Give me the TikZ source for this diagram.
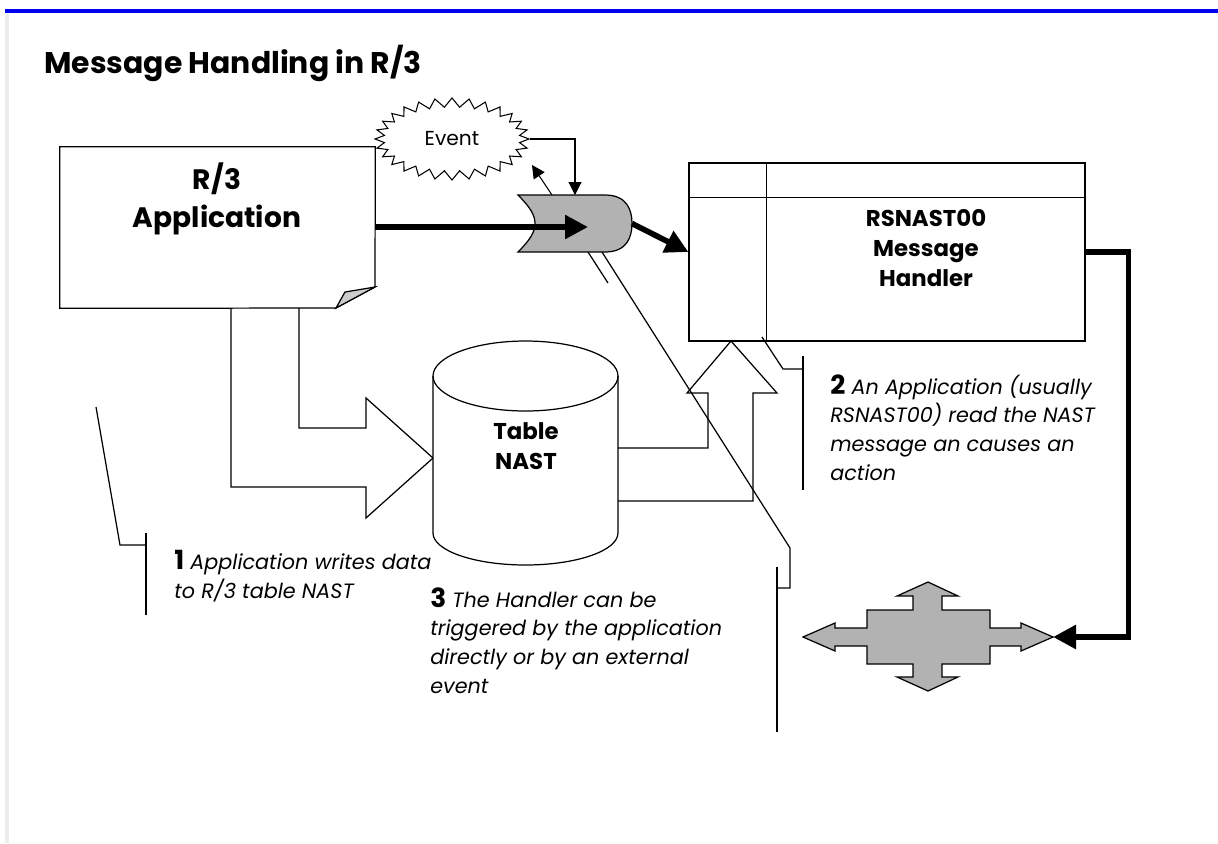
\documentclass[tikz,border=0pt]{standalone}
\usepackage{fontspec}
\setmainfont{Poppins}
\usetikzlibrary{arrows.meta, positioning, shapes.symbols}
\usepackage{xcolor}
\definecolor{azulbarra}{RGB}{0, 0, 240}
\definecolor{cinzaforma}{RGB}{178, 178, 178}
\definecolor{cinzadobra}{RGB}{205, 205, 205}
\definecolor{cinzaborda}{RGB}{236, 236, 236}

\begin{document}
\begin{tikzpicture}[
    x=0.02cm, y=-0.02cm,
    every node/.style={inner sep=0pt},
    linha/.style={draw=black, line width=0.7pt},
    grossa/.style={line width=3.2pt, -{Triangle[length=0.46cm, width=0.46cm]}},
    fina/.style={line width=0.6pt, -{Triangle[length=0.26cm, width=0.26cm]}},
    rotulo/.style={font=\bfseries\fontsize{13}{17}\selectfont, align=center},
    nota/.style={font=\itshape\fontsize{11.8}{16.4}\selectfont, align=left, anchor=north west}
]

\useasboundingbox (0,0) rectangle (1218,843);

% ------------------------------------------------
% Moldura e titulo
% ------------------------------------------------

\draw[azulbarra, line width=2pt] (5,11) -- (1218,11);
\draw[cinzaborda, line width=1.8pt] (7,14) -- (7,843);

\node[
    anchor=base west,
    font=\bfseries\fontsize{17}{19}\selectfont
] (titulo) at (44,73)
{Message Handling in R/3};

% ------------------------------------------------
% Aplicacao R/3
% ------------------------------------------------

\node[
    minimum width=6.3cm,
    minimum height=3.22cm
] (app) at (217.5,227.5)
{};

\draw[linha, fill=white] (app.north west) -- (app.north east) -- (375,287)
    -- (336,308) -- (app.south west) -- cycle;
\draw[linha, fill=cinzadobra] (375,287) -- (336,308) -- (345,292) -- cycle;

\node[
    rotulo,
    font=\bfseries\fontsize{16}{21.6}\selectfont
] (app texto) at (217,199)
{R/3\\Application};

% ------------------------------------------------
% Evento e portao
% ------------------------------------------------

\node[
    starburst,
    draw,
    fill=white,
    line width=0.6pt,
    starburst points=28,
    starburst point height=0.18cm,
    random starburst=0,
    minimum width=3.08cm,
    minimum height=1.64cm,
    font=\fontsize{11.5}{13}\selectfont
] (evento) at (452,139)
{Event};

\draw[linha, fill=cinzaforma] (518,195) -- (605,195)
    .. controls (627,195) and (632,210) .. (632,223.5)
    .. controls (632,237) and (627,252) .. (605,252)
    -- (518,252)
    .. controls (530,240) and (535,232) .. (535,223.5)
    .. controls (535,215) and (530,207) .. (518,195) -- cycle;

\coordinate (portao) at (632,223.5);
\coordinate (portao topo) at (575,195);
\coordinate (portao ponta) at (588,227);
\coordinate (portao esq) at (552,195);
\coordinate (evento volta) at (532,165);

\draw[fina] (evento.east) -| (portao topo);
\draw[fina] (portao esq) -- (evento volta);
\draw[grossa] (app.east |- portao ponta) -- (portao ponta);

% ------------------------------------------------
% Message Handler
% ------------------------------------------------

\node[
    linha,
    minimum width=7.92cm,
    minimum height=3.56cm
] (handler) at (887,252)
{};

\draw[linha] (handler.north west) ++(0,35) -- ++(396,0);
\draw[linha] (handler.north west) ++(78,0) -- ++(0,178);

\node[
    rotulo
] (handler texto) at (926,248)
{RSNAST00\\Message\\Handler};

\draw[grossa] (portao) -- (handler.west);

% ------------------------------------------------
% Tabela NAST
% ------------------------------------------------

\draw[linha] (231,308) -- (231,487) -- (366,487) -- (366,518) -- (433,458)
    -- (366,398) -- (366,428) -- (299,428) -- (299,308);

\draw[linha] (618,501) -- (753,501) -- (753,393) -- (777,393) -- (731,341)
    -- (687,393) -- (708,393) -- (708,448) -- (618,448);

\draw[linha, fill=white] (433,376) -- (433,533)
    arc[start angle=180, end angle=360, x radius=1.85cm, y radius=0.64cm]
    -- (618,376);
\draw[linha] (525.5,376) ellipse[x radius=1.85cm, y radius=0.7cm];

\node[
    rotulo
] (nast) at (526,446)
{Table\\NAST};

% ------------------------------------------------
% Seta de quatro pontas
% ------------------------------------------------

\draw[linha, fill=cinzaforma] (803,637) -- (835,623) -- (835,628) -- (867,628)
    -- (867,610) -- (913,610) -- (913,596) -- (897,596) -- (928,582)
    -- (958,596) -- (942,596) -- (942,610) -- (990,610) -- (990,628)
    -- (1021,628) -- (1021,623) -- (1053,637) -- (1021,651) -- (1021,646)
    -- (990,646) -- (990,664) -- (942,664) -- (942,677) -- (958,677)
    -- (928,691) -- (897,677) -- (913,677) -- (913,664) -- (867,664)
    -- (867,646) -- (835,646) -- (835,651) -- cycle;

\coordinate (quatro) at (1053,637);

\draw[grossa] (handler.east) -- ++(43,0) |- (quatro);

% ------------------------------------------------
% Notas
% ------------------------------------------------

\draw[linha] (96,407) -- (120,545) -- (146,545);
\draw[linha] (146,533) -- (146,615);

\node[
    nota
] (nota1) at (174,550)
{{\upshape\bfseries\fontsize{15}{16}\selectfont 1} Application writes data\\
to R/3 table NAST};

\draw[linha] (762,337) -- (783,369) -- (803,369);
\draw[linha] (803,356) -- (803,490);

\node[
    nota
] (nota2) at (830,374)
{{\upshape\bfseries\fontsize{15}{16}\selectfont 2} An Application (usually\\
RSNAST00) read the NAST\\
message an causes an\\
action};

\draw[linha] (588,252) -- (608,283);
\draw[linha] (602,252) -- (790,548) -- (790,588) -- (777,588);
\draw[linha] (777,567) -- (777,732);

\node[
    nota
] (nota3) at (430,587)
{{\upshape\bfseries\fontsize{15}{16}\selectfont 3} The Handler can be\\
triggered by the application\\
directly or by an external\\
event};

\end{tikzpicture}
\end{document}
